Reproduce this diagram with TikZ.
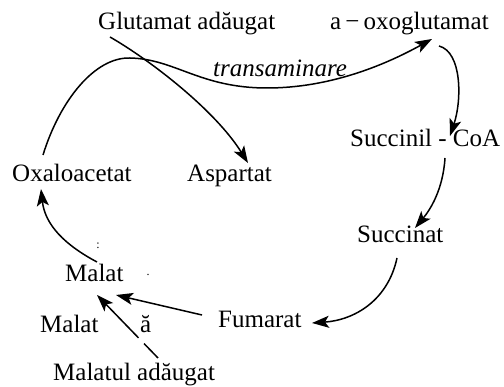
\documentclass[tikz,border=0pt]{standalone}
\usepackage{fontspec}
\setmainfont{Liberation Serif}[ItalicFont=Liberation Serif Italic]
\usetikzlibrary{arrows.meta}
\begin{document}
\begin{tikzpicture}[x=1pt,y=-1pt,
  lbl/.style={anchor=base west, inner sep=0pt, font=\fontsize{25}{30}\selectfont},
  itlbl/.style={anchor=base west, inner sep=0pt, font=\fontsize{25}{30}\selectfont\itshape},
  tiny/.style={anchor=center, inner sep=0pt, font=\fontsize{12}{14}\selectfont},
  conn/.style={line width=1.5pt, -{Stealth[length=17pt,width=12pt,inset=4pt]}}]
\useasboundingbox (0,0) rectangle (504,387);
% labels
\node[lbl] (glu) at (98,30) {Glutamat adăugat};
\node[lbl] (oxo) at (330,30) {a\,−\,oxoglutamat};
\node[itlbl] (trans) at (213,77) {transaminare};
\node[lbl] (succoa) at (350,147) {Succinil - CoA};
\node[lbl] (oxa) at (12,182) {Oxaloacetat};
\node[lbl] (asp) at (187,182) {Aspartat};
\node[lbl] (succ) at (357,243) {Succinat};
\node[lbl] (malat) at (65,282) {Malat};
\node[lbl] (malat2) at (40,333) {Malat};
\node[lbl] (abr) at (140,333) {ă};
\node[lbl] (fum) at (218,328) {Fumarat};
\node[lbl] (malad) at (53,381) {Malatul adăugat};
\node[tiny] (colon) at (98,246) {:};
\node[tiny] (dot) at (148,275) {.};
% connectors
\draw[conn] ([shift={(31,-27)}]oxa.base west)
  .. controls (60,100) and (95,57) .. (130,58)
  .. controls (175,59) and (200,88) .. (267,88)
  .. controls (330,88) and (385,65) .. ([shift={(102,9)}]oxo.base west);
\draw[conn] ([shift={(12,7)}]glu.base west)
  .. controls (150,60) and (215,110) .. ([shift={(61,-19)}]asp.base west);
\draw[conn] ([shift={(109,16)}]oxo.base west)
  .. controls (462,52) and (462,100) .. ([shift={(100,-11)}]succoa.base west);
\draw[conn] ([shift={(95,11)}]succoa.base west)
  .. controls (443,190) and (430,210) .. ([shift={(58,-15)}]succ.base west);
\draw[conn] ([shift={(40,15)}]succ.base west)
  .. controls (388,300) and (355,320) .. ([shift={(94,-5)}]fum.base west);
\draw[conn] ([shift={(-16,-13)}]fum.base west) -- ([shift={(51,13)}]malat.base west);
\draw[conn, dash pattern=on 20pt off 8pt on 200pt] ([shift={(105,-23)}]malad.base west) -- ([shift={(32,13)}]malat.base west);
\draw[conn] ([shift={(32,-20)}]malat.base west)
  .. controls (65,245) and (45,225) .. ([shift={(29,7)}]oxa.base west);
\end{tikzpicture}
\end{document}
